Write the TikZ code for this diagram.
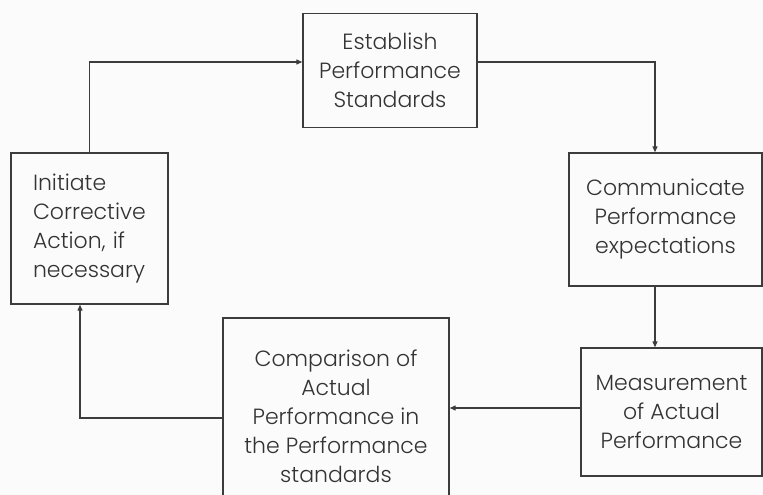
\documentclass[tikz,border=0pt]{standalone}
\usepackage{fontspec}
\setmainfont{Poppins Light}
\usetikzlibrary{arrows.meta,calc}
\definecolor{linec}{HTML}{3C3C3C}
\definecolor{textc}{HTML}{333333}
\definecolor{bgc}{HTML}{FBFBFB}
\begin{document}
\begin{tikzpicture}[x=1pt,y=-1pt,
  box/.style={draw=linec,line width=1.4pt,rectangle,align=center,text=textc,
    font=\fontsize{22}{29}\selectfont,inner sep=0pt},
  arr/.style={draw=linec,line width=1.2pt,-{Triangle[length=6pt,width=5pt]}}]
\fill[bgc] (0,0) rectangle (763,495);
\useasboundingbox (0,0) rectangle (763,495);
\clip (0,0) rectangle (763,495);
\node[box,minimum width=174pt,minimum height=114pt] (est) at (390,70.5)
  {Establish\\Performance\\Standards};
\node[box,minimum width=193pt,minimum height=133pt] (com) at (665.5,219.5)
  {Communicate\\Performance\\expectations};
\node[box,minimum width=181pt,minimum height=128pt] (meas) at (671.5,412)
  {Measurement\\of Actual\\Performance};
\node[box,minimum width=226pt,minimum height=196pt] (comp) at (336,416)
  {Comparison of\\Actual\\Performance in\\the Performance\\standards};
\node[box,align=left,text width=113pt,inner xsep=22pt,minimum height=151pt] (init) at (89.5,228.5)
  {Initiate\\Corrective\\Action, if\\necessary};
\draw[arr] (init.north) |- ([yshift=8.5pt]est.west);
\draw[arr] ([yshift=8.5pt]est.east) -| ([xshift=-10.5pt]com.north);
\draw[arr] ([xshift=-10.5pt]com.south) -- ([xshift=-10.5pt]com.south |- meas.north);
\draw[arr] ([yshift=4pt]meas.west) -- ([yshift=4pt]meas.west -| comp.east);
\draw[arr] ([yshift=-2pt]comp.west) -| ([xshift=-9.5pt]init.south);
\end{tikzpicture}
\end{document}
